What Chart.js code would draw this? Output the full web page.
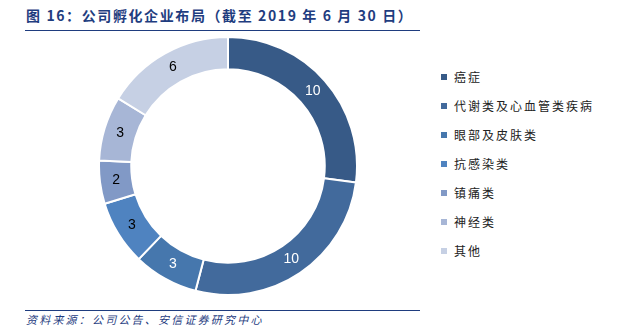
<!DOCTYPE html>
<html><head><meta charset="utf-8">
<script src="https://cdn.jsdelivr.net/npm/chart.js@4/dist/chart.umd.min.js"></script>
<style>
html,body{margin:0;padding:0;background:#fff;}
body{width:642px;height:334px;position:relative;overflow:hidden;font-family:"Noto Sans CJK SC","Liberation Sans",sans-serif;}
#title{position:absolute;left:26px;top:5px;font-size:14px;font-weight:bold;color:#1f3d7f;letter-spacing:1.6px;white-space:nowrap;}
#tline{position:absolute;left:25px;top:30px;width:395px;height:1px;background:#1f3d7f;}
#sline{position:absolute;left:25px;top:310px;width:395px;height:1px;background:#1f3d7f;}
#source{position:absolute;left:26px;top:311px;font-size:11px;font-style:italic;color:#1f3d7f;letter-spacing:2.2px;white-space:nowrap;}
#wrap{position:absolute;left:98px;top:36px;width:260px;height:260px;}
#legend{position:absolute;left:441px;top:62px;}
.li{height:29px;display:flex;align-items:center;font-size:12px;color:#222;letter-spacing:2px;white-space:nowrap;font-family:"Noto Sans CJK SC",serif;}
.sw{width:6px;height:6px;margin-right:7px;}
</style></head>
<body>
<div id="title">图 16：公司孵化企业布局（截至 2019 年 6 月 30 日）</div>
<div id="tline"></div>
<div id="wrap"><canvas id="c" width="260" height="260"></canvas></div>
<div id="legend"></div>
<div id="sline"></div>
<div id="source">资料来源：公司公告、安信证券研究中心</div>
<script>
const categories = ["癌症","代谢类及心血管类疾病","眼部及皮肤类","抗感染类","镇痛类","神经类","其他"];
const values = [10,10,3,3,2,3,6];
const colors = ["#375a87","#426a9c","#4677ad","#4f83c0","#8199c6","#a7b6d6","#c6d0e4"];
const labelColors = ["#ffffff","#ffffff","#ffffff","#000000","#000000","#000000","#000000"];

const lg = document.getElementById('legend');
categories.forEach((c,i)=>{
  const d=document.createElement('div');d.className='li';
  d.innerHTML='<span class="sw" style="background:'+colors[i]+'"></span><span>'+c+'</span>';
  lg.appendChild(d);
});

const valueLabels = {
  id:'valueLabels',
  afterDatasetsDraw(chart){
    const ctx=chart.ctx;
    const meta=chart.getDatasetMeta(0);
    ctx.save();
    ctx.font='14px "Liberation Sans", Arial, sans-serif';
    ctx.textAlign='center';ctx.textBaseline='middle';
    meta.data.forEach((arc,i)=>{
      const p=arc.tooltipPosition();
      ctx.fillStyle=labelColors[i];
      ctx.fillText(String(values[i]),p.x,p.y);
    });
    ctx.restore();
  }
};

new Chart(document.getElementById('c'),{
  type:'doughnut',
  data:{labels:categories,datasets:[{data:values,backgroundColor:colors,borderColor:'#ffffff',borderWidth:2}]},
  options:{
    responsive:false,animation:false,cutout:'75%',
    layout:{padding:0},
    plugins:{legend:{display:false},tooltip:{enabled:false}}
  },
  plugins:[valueLabels]
});
</script>
</body></html>
